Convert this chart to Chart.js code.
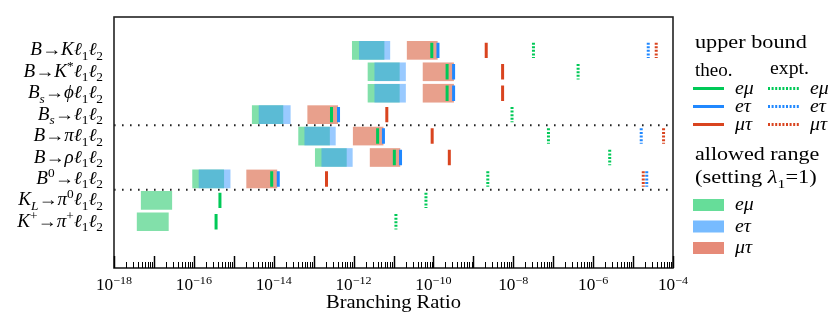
<!DOCTYPE html>
<html>
<head>
<meta charset="utf-8">
<script src="https://cdn.jsdelivr.net/npm/chart.js@4.4.1/dist/chart.umd.min.js"></script>
<style>
  html, body { margin: 0; padding: 0; background: #fff; }
  #wrap { position: relative; width: 833px; height: 320px; }
</style>
</head>
<body>
<div id="wrap"><canvas id="chart" width="833" height="320"></canvas></div>
<script>
// decay channels, top to bottom ($..$ = math italics, _ sub, ^ sup)
const decays = [
  '$B→Kℓ_1ℓ_2$',
  '$B→K^*ℓ_1ℓ_2$',
  '$B_s→ϕℓ_1ℓ_2$',
  '$B_s→ℓ_1ℓ_2$',
  '$B→πℓ_1ℓ_2$',
  '$B→ρℓ_1ℓ_2$',
  '$B^0→ℓ_1ℓ_2$',
  '$K_L→π^0ℓ_1ℓ_2$',
  '$K^+→π^+ℓ_1ℓ_2$'
];
// dotted separators between groups of channels
const groupBreaks = [3.5, 6.5];

// allowed range (setting lambda_1 = 1): [low, high]
const allowedEmu = [
  [9.3e-13, 5.8e-12], [2.3e-12, 1.4e-11], [2.3e-12, 1.4e-11],
  [2.9e-15, 1.7e-14], [4.2e-14, 2.5e-13], [1.1e-13, 6.6e-13],
  [9.3e-17, 5.6e-16], [4.8e-18, 2.8e-17], [3.8e-18, 2.3e-17]
];
const allowedEtau = [
  [1.4e-12, 8.1e-12], [3.4e-12, 2.0e-11], [3.4e-12, 2.0e-11],
  [4.3e-15, 2.6e-14], [6.0e-14, 3.5e-13], [1.6e-13, 9.3e-13],
  [1.35e-16, 8.1e-16], null, null
];
const allowedMutau = [
  [2.2e-11, 1.25e-10], [5.5e-11, 3.2e-10], [5.5e-11, 3.2e-10],
  [7.1e-14, 4.0e-13], [9.8e-13, 5.5e-12], [2.6e-12, 1.45e-11],
  [2.1e-15, 1.2e-14], null, null
];

// theoretical upper bounds
const theoEmu   = [9.1e-11, 2.2e-10, 2.2e-10, 2.8e-13, 4.0e-12, 1.05e-11, 8.9e-15, 4.5e-16, 3.6e-16];
const theoEtau  = [1.3e-10, 3.2e-10, 3.2e-10, 4.2e-13, 5.6e-12, 1.5e-11, 1.3e-14, null, null];
const theoMutau = [2.1e-9, 5.4e-9, 5.4e-9, 6.8e-12, 9.3e-11, 2.5e-10, 2.1e-13, null, null];

// experimental upper bounds
const exptEmu   = [3.2e-8, 4.2e-7, null, 9.3e-9, 7.6e-8, 2.6e-6, 2.3e-9, 6.5e-11, 1.15e-11];
const exptEtau  = [2.4e-5, null, null, null, 1.6e-5, null, 2.2e-5, null, null];
const exptMutau = [3.8e-5, null, null, null, 5.8e-5, null, 1.8e-5, null, null];

// axis: decades shown, which ones get a label, minor multipliers
const xDecades = [-18, -17, -16, -15, -14, -13, -12, -11, -10, -9, -8, -7, -6, -5, -4];
const xTickExps = [-18, -16, -14, -12, -10, -8, -6, -4];
const minorMults = [2, 3, 4, 5, 6, 7, 8, 9];

const colors = {
  emu: '#00c957', etau: '#2088ff', mutau: '#d9441f',
  fillEmu: 'rgba(46,204,113,0.6)', fillEtau: 'rgba(51,150,255,0.5)', fillMutau: '#e8a08c',
  boxEmu: '#66dd99', boxEtau: '#77bbff', boxMutau: '#e68a78'
};

const FONT = "'Liberation Serif', 'Times New Roman', 'DejaVu Serif', serif";
const HALF = 0.36;   // half height of a row mark, in row units

function rangeData(ranges) {
  const out = [];
  ranges.forEach((r, i) => { if (r) out.push({ x: r, y: i }); });
  return out;
}

function markData(vals) {
  const out = [];
  vals.forEach((v, i) => {
    if (v == null) return;
    out.push({ x: v, y: i - HALF }, { x: v, y: i + HALF }, { x: v, y: null });
  });
  return out;
}

function barSet(ranges, color, order) {
  return {
    type: 'bar', indexAxis: 'y', data: rangeData(ranges),
    backgroundColor: color, borderWidth: 0,
    barThickness: 18, grouped: false, order: order
  };
}

function markSet(vals, color, dotted) {
  return {
    type: 'line', data: markData(vals),
    borderColor: color, borderWidth: 3, pointRadius: 0,
    borderDash: dotted ? [2, 1.6] : [], spanGaps: false, order: 1
  };
}

const sepData = [];
groupBreaks.forEach(b => {
  sepData.push({ x: 1e-18, y: b }, { x: 1e-4, y: b }, { x: 1e-4, y: null });
});

// --- little rich text helper for math-ish labels ---
function parseRich(str) {
  const runs = [];
  let math = false;
  const isVar = c => math && /[A-Za-zα-ωϕℓ]/.test(c);
  for (let i = 0; i < str.length; i++) {
    let c = str[i];
    if (c === '$') { math = !math; continue; }
    let pos = '';
    if (c === '_' || c === '^') {
      pos = c === '_' ? 'sub' : 'sup';
      c = str[++i];
      if (c === '{') {
        const end = str.indexOf('}', i);
        const grp = str.slice(i + 1, end);
        i = end;
        for (const g of grp) runs.push({ c: g, pos, italic: isVar(g) });
        continue;
      }
    }
    runs.push({ c, pos, italic: isVar(c) });
  }
  return runs;
}

function runFont(r, size) {
  const s = r.pos ? size * 0.7 : size;
  return (r.italic ? 'italic ' : '') + s + 'px ' + FONT;
}

function drawRich(ctx, str, x, y, size, align, sx) {
  sx = sx || 1;
  const runs = parseRich(str);
  let w = 0;
  runs.forEach(r => { ctx.font = runFont(r, size); r.w = ctx.measureText(r.c).width; w += r.w; });
  const x0 = align === 'right' ? x - w * sx : align === 'center' ? x - w * sx / 2 : x;
  ctx.save();
  ctx.translate(x0, y);
  ctx.scale(sx, 1);
  ctx.textBaseline = 'alphabetic';
  ctx.textAlign = 'left';
  let cx = 0;
  runs.forEach(r => {
    ctx.font = runFont(r, size);
    const dy = r.pos === 'sub' ? size * 0.25 : r.pos === 'sup' ? -size * 0.4 : 0;
    ctx.fillText(r.c, cx, dy);
    cx += r.w;
  });
  ctx.restore();
}

const decorPlugin = {
  id: 'decor',
  afterDraw(chart) {
    const ctx = chart.ctx;
    const area = chart.chartArea;
    const xs = chart.scales.x, ys = chart.scales.y;
    ctx.save();
    ctx.fillStyle = '#000';

    // frame
    ctx.strokeStyle = '#222';
    ctx.lineWidth = 1.6;
    ctx.strokeRect(area.left, area.top, area.right - area.left, area.bottom - area.top);

    // inward ticks on the log axis
    ctx.strokeStyle = '#000';
    const tick = (v, len, lw) => {
      const px = Math.round(xs.getPixelForValue(v)) + 0.5;
      ctx.lineWidth = lw;
      ctx.beginPath();
      ctx.moveTo(px, area.bottom);
      ctx.lineTo(px, area.bottom - len);
      ctx.stroke();
    };
    xDecades.forEach(e => {
      tick(parseFloat('1e' + e), 12, 1.5);
      if (e < -4) minorMults.forEach(m => tick(parseFloat(m + 'e' + e), 6, 1));
    });

    // tick labels
    xTickExps.forEach(e => {
      const px = xs.getPixelForValue(parseFloat('1e' + e));
      drawRich(ctx, '10^{−' + (-e) + '}', px, 290, 16, 'center', 1.08);
    });
    drawRich(ctx, 'Branching Ratio', (area.left + area.right) / 2, 308, 19, 'center', 1.08);

    // channel labels
    decays.forEach((d, i) => {
      drawRich(ctx, d, area.left - 11, ys.getPixelForValue(i) + 5, 18, 'right', 1.06);
    });

    // legend
    const lx = 695;
    drawRich(ctx, 'upper bound', lx, 48, 19, 'left', 1.17);
    drawRich(ctx, 'theo.', lx, 76, 18, 'left', 1.06);
    drawRich(ctx, 'expt.', 770, 74, 18, 'left', 1.1);
    const flav = [['$eμ$', colors.emu, colors.boxEmu], ['$eτ$', colors.etau, colors.boxEtau], ['$μτ$', colors.mutau, colors.boxMutau]];
    flav.forEach((f, k) => {
      const y = 88.5 + k * 18;
      ctx.strokeStyle = f[1];
      ctx.lineWidth = 3;
      ctx.setLineDash([]);
      ctx.beginPath(); ctx.moveTo(693, y); ctx.lineTo(724, y); ctx.stroke();
      drawRich(ctx, f[0], 735, y + 5, 18, 'left', 1.1);
      ctx.setLineDash([2, 1.6]);
      ctx.beginPath(); ctx.moveTo(768, y); ctx.lineTo(800, y); ctx.stroke();
      ctx.setLineDash([]);
      drawRich(ctx, f[0], 810, y + 5, 18, 'left', 1.1);
    });
    drawRich(ctx, 'allowed range', lx, 160, 19, 'left', 1.16);
    drawRich(ctx, '(setting $λ_1$=1)', lx, 183, 19, 'left', 1.18);
    flav.forEach((f, k) => {
      const y = 199 + k * 21.5;
      ctx.fillStyle = f[2];
      ctx.fillRect(693, y, 31, 12);
      ctx.fillStyle = '#000';
      drawRich(ctx, f[0], 735, y + 11, 18, 'left', 1.1);
    });
    ctx.restore();
  }
};

new Chart(document.getElementById('chart'), {
  type: 'bar',
  data: {
    datasets: [
      barSet(allowedMutau, colors.fillMutau, 11),
      barSet(allowedEmu, colors.fillEmu, 11),
      barSet(allowedEtau, colors.fillEtau, 10),
      markSet(theoEmu, colors.emu, false),
      markSet(theoEtau, colors.etau, false),
      markSet(theoMutau, colors.mutau, false),
      markSet(exptEmu, colors.emu, true),
      markSet(exptEtau, colors.etau, true),
      markSet(exptMutau, colors.mutau, true),
      {
        type: 'line', data: sepData, borderColor: '#222', borderWidth: 2,
        pointRadius: 0, borderDash: [1.6, 6.4], borderDashOffset: -8, order: 20
      }
    ]
  },
  options: {
    responsive: false,
    animation: false,
    layout: { padding: { left: 114, top: 17, right: 160, bottom: 52 } },
    plugins: { legend: { display: false }, tooltip: { enabled: false } },
    scales: {
      x: { type: 'logarithmic', min: 1e-18, max: 1e-4, display: false },
      y: { type: 'linear', min: -0.72, max: 9.32, reverse: true, display: false }
    }
  },
  plugins: [decorPlugin]
});
</script>
</body>
</html>
